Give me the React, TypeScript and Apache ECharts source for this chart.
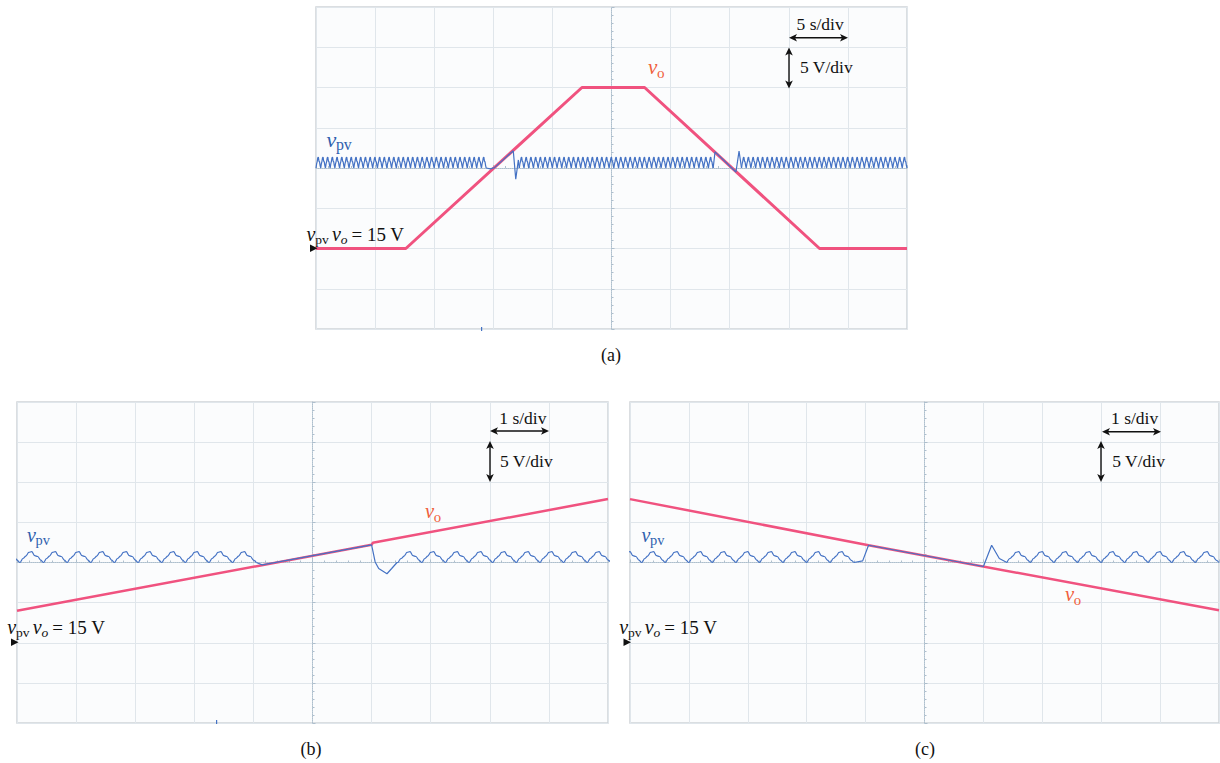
import React, { useEffect, useRef } from "react";
import * as echarts from "echarts";

// ---------- data (read from the oscilloscope captures) ----------
const Y_MIN = 5; // V at bottom of screen
const Y_MAX = 45; // V at top of screen
const Y_DIV = 5; // 5 V/div
const BASE_V = 25; // vpv operating level (centre line)
const RIPPLE_STEP = 0.05; // s between samples of one MPPT ripple period (0.4 s)
const RIPPLE_SHAPE = [0, 0.5, 0.8, 1.25, 1.35, 0.85, 0.75, 0.3]; // V above BASE_V

// Panel (a): 5 s/div, 0..50 s
const A_X_MAX = 50;
const A_VO_T = [0, 7.6, 22.5, 27.8, 42.6, 50];
const A_VO_V = [15, 15, 35, 35, 15, 15];
const A_RIPPLE_SPANS = [[0, 14.4], [17.2, 33.6], [36.0, 50]];
const A_TRANS_T = [[14.75, 15.1, 16.69, 16.9, 17.12], [33.76, 35.53, 35.79]];
const A_TRANS_V = [[24.9, 25.05, 27.15, 23.6, 26.0], [27.0, 24.5, 27.1]];

// Panel (b): 1 s/div, 0..10 s (vo rising)
const B_X_MAX = 10;
const B_VO_T = [0, 6.0, 6.02, 10];
const B_VO_V = [19.0, 27.2, 27.45, 32.9];
const B_RIPPLE_SPANS = [[-0.35, 4.05], [6.45, 10.05]];
const B_TRANS_T = [[4.15, 6.0, 6.06, 6.12, 6.26, 6.34, 6.43]];
const B_TRANS_V = [[24.7, 27.2, 25.07, 24.25, 23.6, 24.25, 25.0]];

// Panel (c): 1 s/div, 0..10 s (vo falling)
const C_X_MAX = 10;
const C_VO_T = [0, 4.05, 10];
const C_VO_V = [32.9, 27.15, 19.05];
const C_RIPPLE_SPANS = [[-0.2, 3.8], [6.4, 10.0]];
const C_TRANS_T = [[3.95, 4.05, 6.0, 6.14, 6.27]];
const C_TRANS_V = [[25.2, 27.15, 24.5, 27.15, 25.5]];

// ---------- helpers ----------
const zip = (t: number[], v: number[]) => t.map((x, i) => [x, v[i]]);

function ripple(span: number[]) {
  const out: number[][] = [];
  const n = Math.round((span[1] - span[0]) / RIPPLE_STEP);
  for (let k = 0; k <= n; k++) {
    out.push([span[0] + k * RIPPLE_STEP, BASE_V + RIPPLE_SHAPE[k % RIPPLE_SHAPE.length]]);
  }
  return out;
}

// splits the vpv trace into steady ripple pieces and transient pieces
function vpvPieces(spans: number[][], transT: number[][], transV: number[][]) {
  const ripples = spans.map(ripple);
  const trans: number[][][] = [];
  transT.forEach((t, i) => {
    const before = ripples[i][ripples[i].length - 1];
    const after = ripples[i + 1] ? [ripples[i + 1][0]] : [];
    trans.push([before, ...zip(t, transV[i]), ...after]);
  });
  return { ripples, trans };
}

const PANELS = [
  { left: 316, top: 7, width: 591, height: 322, xMax: A_X_MAX, vo: zip(A_VO_T, A_VO_V), vpv: vpvPieces(A_RIPPLE_SPANS, A_TRANS_T, A_TRANS_V), voW: 3, smooth: false },
  { left: 17, top: 402, width: 591, height: 321, xMax: B_X_MAX, vo: zip(B_VO_T, B_VO_V), vpv: vpvPieces(B_RIPPLE_SPANS, B_TRANS_T, B_TRANS_V), voW: 2.5, smooth: 0.35 },
  { left: 630, top: 402, width: 589, height: 321, xMax: C_X_MAX, vo: zip(C_VO_T, C_VO_V), vpv: vpvPieces(C_RIPPLE_SPANS, C_TRANS_T, C_TRANS_V), voW: 2.5, smooth: 0.35 },
];

const SERIF = "'Liberation Serif', 'Times New Roman', serif";
const BLUE_LABEL = "#2f5fae";
const VO_LABEL = "#f05f3c";
const VO_LINE = "#f0527f";
const VPV_LINE = "#4472c4";
const GRID_LINE = "#e0e6eb";
const CENTER_LINE = "#aebfcd";

// text at a given alphabetic baseline
function txt(x: number, base: number, text: string, size: number, color = "#111", italic = false, align = "left") {
  return {
    type: "text",
    x,
    y: base - 0.34 * size,
    z: 100,
    silent: true,
    style: {
      text,
      fill: color,
      font: `${italic ? "italic " : ""}${size}px ${SERIF}`,
      align,
      verticalAlign: "middle",
    },
  };
}

function hArrow(x1: number, x2: number, y: number) {
  return [
    { type: "line", z: 100, shape: { x1: x1 + 3, y1: y, x2: x2 - 3, y2: y }, style: { stroke: "#111", lineWidth: 1.4 } },
    { type: "polygon", z: 100, shape: { points: [[x1, y], [x1 + 8, y - 3.8], [x1 + 6, y], [x1 + 8, y + 3.8]] }, style: { fill: "#111" } },
    { type: "polygon", z: 100, shape: { points: [[x2, y], [x2 - 8, y - 3.8], [x2 - 6, y], [x2 - 8, y + 3.8]] }, style: { fill: "#111" } },
  ];
}

function vArrow(x: number, y1: number, y2: number) {
  return [
    { type: "line", z: 100, shape: { x1: x, y1: y1 + 3, x2: x, y2: y2 - 3 }, style: { stroke: "#111", lineWidth: 1.4 } },
    { type: "polygon", z: 100, shape: { points: [[x, y1], [x - 3.8, y1 + 8], [x, y1 + 6], [x + 3.8, y1 + 8]] }, style: { fill: "#111" } },
    { type: "polygon", z: 100, shape: { points: [[x, y2], [x - 3.8, y2 - 8], [x, y2 - 6], [x + 3.8, y2 - 8]] }, style: { fill: "#111" } },
  ];
}

function marker(x: number, y: number) {
  return { type: "polygon", z: 100, shape: { points: [[x, y - 3.8], [x + 7.5, y], [x, y + 3.8]] }, style: { fill: "#111" } };
}

function refLabel(x: number, base: number) {
  return [
    txt(x, base, "v", 20, "#111", true),
    txt(x + 8.8, base + 3.5, "pv", 13.5, "#111"),
    txt(x + 25.5, base, "v", 20, "#111", true),
    txt(x + 34.3, base + 3.5, "o", 13.5, "#111", true),
    txt(x + 45, base, "= 15 V", 19, "#111"),
  ];
}

function vpvLabel(x: number, base: number, size: number) {
  return [txt(x, base, "v", size, BLUE_LABEL, true), txt(x + size * 0.43, base + 3.5, "pv", size * 0.72, BLUE_LABEL)];
}

function voLabel(x: number, base: number, size: number) {
  return [txt(x, base, "v", size, VO_LABEL, true), txt(x + size * 0.43, base + 4, "o", size * 0.72, VO_LABEL)];
}

function buildOption() {
  const grid = PANELS.map((p) => ({
    left: p.left,
    top: p.top,
    width: p.width,
    height: p.height,
    show: true,
    backgroundColor: "#fbfcfd",
    borderColor: "#cfd3d7",
    borderWidth: 1.5,
  }));

  const mainX = PANELS.map((p, i) => ({
    gridIndex: i,
    type: "value",
    min: 0,
    max: p.xMax,
    interval: p.xMax / 10,
    axisLine: { show: false },
    axisTick: { show: false },
    axisLabel: { show: false },
    splitLine: { show: true, lineStyle: { color: GRID_LINE, width: 1 } },
  }));
  const centerX = PANELS.map((p, i) => ({
    gridIndex: i,
    type: "value",
    min: 0,
    max: p.xMax,
    interval: p.xMax / 10,
    position: "bottom",
    offset: -p.height / 2,
    axisLine: { show: true, onZero: false, lineStyle: { color: CENTER_LINE, type: "dotted", width: 1 } },
    axisTick: { show: true, inside: true, length: 3, lineStyle: { color: CENTER_LINE } },
    minorTick: { show: true, splitNumber: 5, length: 2, lineStyle: { color: CENTER_LINE } },
    axisLabel: { show: false },
    splitLine: { show: false },
  }));
  const mainY = PANELS.map((p, i) => ({
    gridIndex: i,
    type: "value",
    min: Y_MIN,
    max: Y_MAX,
    interval: Y_DIV,
    axisLine: { show: false },
    axisTick: { show: false },
    axisLabel: { show: false },
    splitLine: { show: true, lineStyle: { color: GRID_LINE, width: 1 } },
  }));
  const centerY = PANELS.map((p, i) => ({
    gridIndex: i,
    type: "value",
    min: Y_MIN,
    max: Y_MAX,
    interval: Y_DIV,
    position: "left",
    offset: -p.width / 2,
    axisLine: { show: true, onZero: false, lineStyle: { color: CENTER_LINE, type: "dotted", width: 1 } },
    axisTick: { show: true, inside: true, length: 3, lineStyle: { color: CENTER_LINE } },
    minorTick: { show: true, splitNumber: 5, length: 2, lineStyle: { color: CENTER_LINE } },
    axisLabel: { show: false },
    splitLine: { show: false },
  }));

  const series: any[] = [];
  PANELS.forEach((p, i) => {
    series.push({
      type: "line",
      name: "vo",
      xAxisIndex: i,
      yAxisIndex: i,
      data: p.vo,
      symbol: "none",
      clip: true,
      z: 2,
      lineStyle: { color: VO_LINE, width: p.voW },
    });
    p.vpv.ripples.forEach((d) =>
      series.push({
        type: "line",
        name: "vpv",
        xAxisIndex: i,
        yAxisIndex: i,
        data: d,
        symbol: "none",
        smooth: p.smooth,
        smoothMonotone: "x",
        clip: true,
        z: 3,
        lineStyle: { color: VPV_LINE, width: 1.2 },
      })
    );
    p.vpv.trans.forEach((d) =>
      series.push({
        type: "line",
        name: "vpv",
        xAxisIndex: i,
        yAxisIndex: i,
        data: d,
        symbol: "none",
        smooth: false,
        clip: true,
        z: 3,
        lineStyle: { color: VPV_LINE, width: 1.2 },
      })
    );
  });

  const graphic: any[] = [
    // panel (a)
    ...vpvLabel(326.5, 146.5, 22),
    ...voLabel(648, 74, 21),
    txt(796.5, 29.5, "5 s/div", 17.5),
    txt(800, 73, "5 V/div", 17.5),
    ...hArrow(789, 848, 37.7),
    ...vArrow(789, 47.5, 88.5),
    ...refLabel(306.5, 240.5),
    marker(310, 248.3),
    { type: "rect", z: 100, shape: { x: 481, y: 327, width: 1.2, height: 4 }, style: { fill: VPV_LINE } },
    txt(611, 361, "(a)", 18, "#111", false, "center"),
    // panel (b)
    ...vpvLabel(27, 541.7, 20),
    ...voLabel(425, 518.3, 20.5),
    txt(499.3, 423.5, "1 s/div", 17.5),
    txt(500, 467, "5 V/div", 17.5),
    ...hArrow(490, 549, 431),
    ...vArrow(490, 441, 482),
    ...refLabel(7.3, 634),
    marker(11, 642.3),
    { type: "rect", z: 100, shape: { x: 216, y: 720, width: 1.2, height: 4 }, style: { fill: VPV_LINE } },
    txt(311, 755, "(b)", 18, "#111", false, "center"),
    // panel (c)
    ...vpvLabel(641.5, 541.7, 20),
    ...voLabel(1065, 600.7, 20.5),
    txt(1111, 423.5, "1 s/div", 17.5),
    txt(1112.3, 467, "5 V/div", 17.5),
    ...hArrow(1102, 1161, 431.7),
    ...vArrow(1101, 441, 482),
    ...refLabel(619.3, 634),
    marker(623.5, 642.3),
    txt(925, 755, "(c)", 18, "#111", false, "center"),
  ];

  return {
    animation: false,
    backgroundColor: "#ffffff",
    grid,
    xAxis: [...mainX, ...centerX],
    yAxis: [...mainY, ...centerY],
    series,
    graphic,
  };
}

export default function App() {
  const ref = useRef<HTMLDivElement>(null);
  useEffect(() => {
    if (!ref.current) return;
    const chart = echarts.init(ref.current, undefined, { renderer: "svg" });
    chart.setOption(buildOption() as any);
    return () => chart.dispose();
  }, []);
  return (
    <div
      ref={ref}
      style={{ position: "fixed", left: 0, top: 0, width: 1220, height: 763, background: "#fff" }}
    />
  );
}
